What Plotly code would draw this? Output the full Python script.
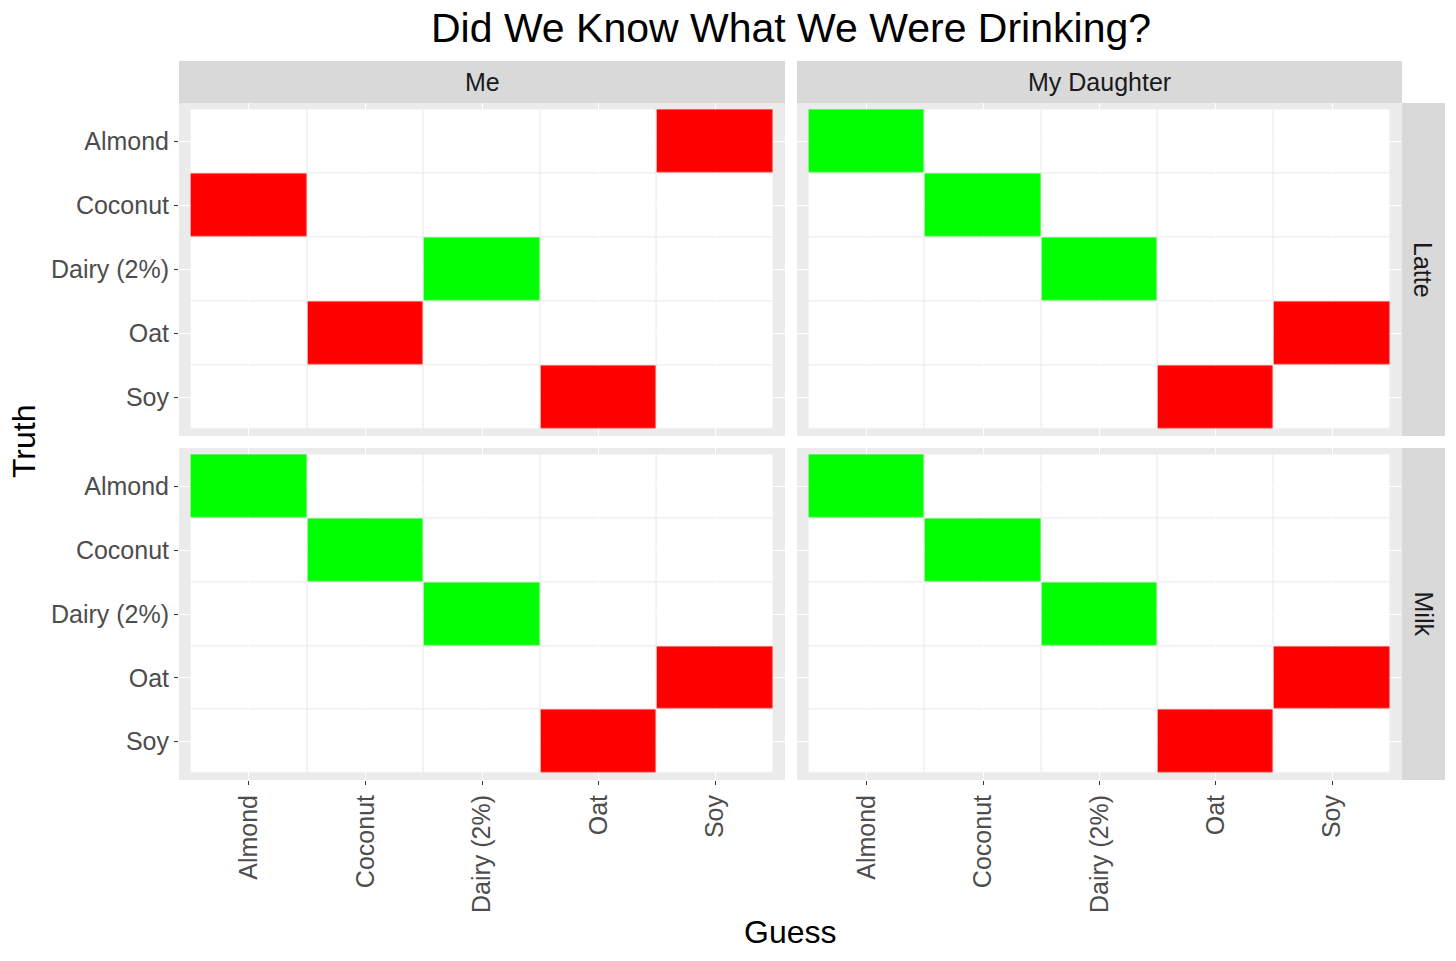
import plotly.graph_objects as go

W, H = 1456, 961

categories = ["Almond", "Coconut", "Dairy (2%)", "Oat", "Soy"]
people = ["Me", "My Daughter"]
drinks = ["Latte", "Milk"]

# guess made for each truth (in order of categories)
me_latte_guess = ["Soy", "Almond", "Dairy (2%)", "Coconut", "Oat"]
daughter_latte_guess = ["Almond", "Coconut", "Dairy (2%)", "Soy", "Oat"]
me_milk_guess = ["Almond", "Coconut", "Dairy (2%)", "Soy", "Oat"]
daughter_milk_guess = ["Almond", "Coconut", "Dairy (2%)", "Soy", "Oat"]

panels = [
    (0, 0, me_latte_guess),
    (0, 1, daughter_latte_guess),
    (1, 0, me_milk_guess),
    (1, 1, daughter_milk_guess),
]

def px_x(p):
    return p / W

def px_y(p):
    return 1 - p / H

col_dom = [(px_x(179), px_x(785)), (px_x(797), px_x(1402))]
row_dom = [(px_y(436), px_y(103)), (px_y(780), px_y(448))]

FONT = "Liberation Sans, Arial, sans-serif"
fig = go.Figure()

colorscale = [[0, "#FFFFFF"], [0.33, "#FFFFFF"], [0.33, "#00FF00"],
              [0.67, "#00FF00"], [0.67, "#FF0000"], [1, "#FF0000"]]

for idx, (r, c, guess) in enumerate(panels):
    z = []
    for i, truth in enumerate(categories):
        row = []
        for j, g in enumerate(categories):
            if guess[i] == g:
                row.append(1 if g == truth else 2)
            else:
                row.append(0)
        z.append(row)
    n = idx + 1
    xa = "x" if n == 1 else f"x{n}"
    ya = "y" if n == 1 else f"y{n}"
    fig.add_trace(go.Heatmap(
        x=categories, y=categories, z=z, zmin=0, zmax=2,
        colorscale=colorscale, showscale=False, xgap=1.2, ygap=1.2,
        hoverinfo="skip", xaxis=xa, yaxis=ya))
    axis_common = dict(
        type="category", categoryorder="array", categoryarray=categories,
        showgrid=True, gridcolor="#FFFFFF", gridwidth=1.2, zeroline=False,
        showline=False, ticks="outside", ticklen=4, tickwidth=1.1,
        tickcolor="#333333", tickfont=dict(family=FONT, size=25, color="#4D4D4D"),
    )
    fig.layout[f"xaxis{'' if n == 1 else n}"] = dict(
        axis_common, domain=list(col_dom[c]), range=[-0.6, 4.6],
        anchor=ya, showticklabels=(r == 1), tickangle=-90,
        ticks="outside" if r == 1 else "")
    fig.layout[f"yaxis{'' if n == 1 else n}"] = dict(
        axis_common, domain=list(row_dom[r]), range=[4.6, -0.6],
        anchor=xa, showticklabels=(c == 0),
        ticks="outside" if c == 0 else "")

shapes = []
annotations = []

def ann(x, y, text, size, color, angle=0):
    return dict(xref="paper", yref="paper", x=x, y=y, text=text, showarrow=False,
                xanchor="center", yanchor="middle", textangle=angle,
                font=dict(family=FONT, size=size, color=color))

# top strips
for c, name in enumerate(people):
    shapes.append(dict(type="rect", xref="paper", yref="paper",
                       x0=col_dom[c][0], x1=col_dom[c][1], y0=px_y(103), y1=px_y(61),
                       fillcolor="#D9D9D9", line_width=0, layer="below"))
    annotations.append(ann((col_dom[c][0] + col_dom[c][1]) / 2, px_y(82), name, 25, "#1A1A1A"))
# right strips
for r, name in enumerate(drinks):
    shapes.append(dict(type="rect", xref="paper", yref="paper",
                       x0=px_x(1402), x1=px_x(1445), y0=row_dom[r][0], y1=row_dom[r][1],
                       fillcolor="#D9D9D9", line_width=0, layer="below"))
    annotations.append(ann(px_x(1423.5), (row_dom[r][0] + row_dom[r][1]) / 2, name, 25, "#1A1A1A", 90))

annotations.append(ann(px_x(791), px_y(28), "Did We Know What We Were Drinking?", 41, "#000000"))
annotations.append(ann(px_x(790.5), px_y(932), "Guess", 32, "#000000"))
annotations.append(ann(px_x(24), px_y(441), "Truth", 32, "#000000", -90))

fig.update_layout(
    width=W, height=H, margin=dict(l=0, r=0, t=0, b=0),
    paper_bgcolor="#FFFFFF", plot_bgcolor="#EBEBEB",
    shapes=shapes, annotations=annotations, showlegend=False,
    font=dict(family=FONT),
)

fig.write_html("out.html")
